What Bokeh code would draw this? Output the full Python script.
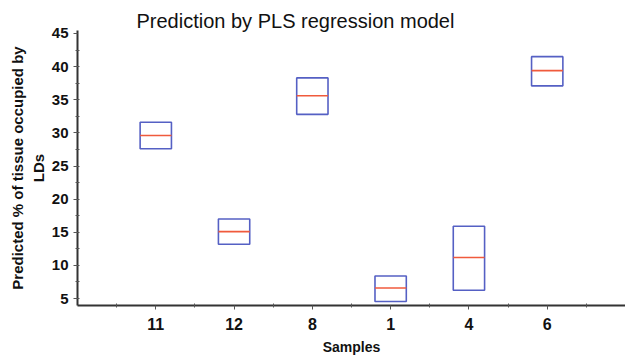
from bokeh.plotting import figure
from bokeh.models import Range1d, FixedTicker, ColumnDataSource
from bokeh.embed import file_html
from bokeh.resources import INLINE
import numpy as np

samples = ["11", "12", "8", "1", "4", "6"]
q_low = [27.6, 13.2, 32.8, 4.55, 6.25, 37.1]
median = [29.6, 15.1, 35.6, 6.6, 11.2, 39.4]
q_high = [31.6, 17.0, 38.3, 8.4, 15.9, 41.5]
y_ticks = [5, 10, 15, 20, 25, 30, 35, 40, 45]

x = np.arange(len(samples))
half = 0.2
src = ColumnDataSource(dict(x=x, left=x - half, right=x + half,
                            lo=q_low, hi=q_high, med=median))

p = figure(width=625, height=357, output_backend="svg", toolbar_location=None,
           x_range=Range1d(-1, 6), y_range=Range1d(3.95, 45.45),
           min_border_left=77, min_border_right=0, min_border_top=30,
           min_border_bottom=51)
p.title.text = "Prediction by PLS regression model"
p.title.text_font = "Liberation Sans"
p.title.text_font_size = "20px"
p.title.text_font_style = "normal"
p.title.text_color = "#111111"
p.title.align = "left"
p.title.offset = 59
p.title.standoff = -2

p.quad(left="left", right="right", top="hi", bottom="lo", source=src,
       fill_alpha=0, line_color="#5560c4", line_width=1.6)
p.segment(x0="left", x1="right", y0="med", y1="med", source=src,
          line_color="#f05a3c", line_width=1.6)

p.grid.visible = False
p.outline_line_color = None

p.xaxis.ticker = FixedTicker(ticks=list(x), minor_ticks=list(np.arange(-0.5, 6.0, 1.0)))
p.xaxis.major_label_overrides = {int(i): s for i, s in zip(x, samples)}
p.yaxis.ticker = FixedTicker(ticks=y_ticks, minor_ticks=list(np.arange(5, 45, 2.5)))

for ax in (p.xaxis, p.yaxis):
    ax.axis_line_color = "#333333"
    ax.axis_line_width = 2
    ax.major_tick_line_color = "#555555"
    ax.minor_tick_line_color = "#555555"
    ax.major_tick_in = 0
    ax.major_tick_out = 4
    ax.minor_tick_in = 2
    ax.minor_tick_out = 2
    ax.major_label_text_font = "Liberation Sans"
    ax.major_label_text_font_style = "bold"
    ax.major_label_text_color = "#111111"
    ax.axis_label_text_font = "Liberation Sans"
    ax.axis_label_text_font_style = "bold"
    ax.axis_label_text_color = "#111111"

p.xaxis.major_label_text_font_size = "16px"
p.xaxis.major_label_standoff = 8
p.yaxis.major_label_text_font_size = "15px"
p.xaxis.axis_label = "Samples"
p.xaxis.axis_label_text_font_size = "14px"
p.xaxis.axis_label_standoff = 6
p.yaxis.axis_label = "Predicted % of tissue occupied by\nLDs"
p.yaxis.axis_label_text_font_size = "15px"
p.yaxis.axis_label_standoff = 2

open("out.html", "w").write(file_html(p, INLINE))
